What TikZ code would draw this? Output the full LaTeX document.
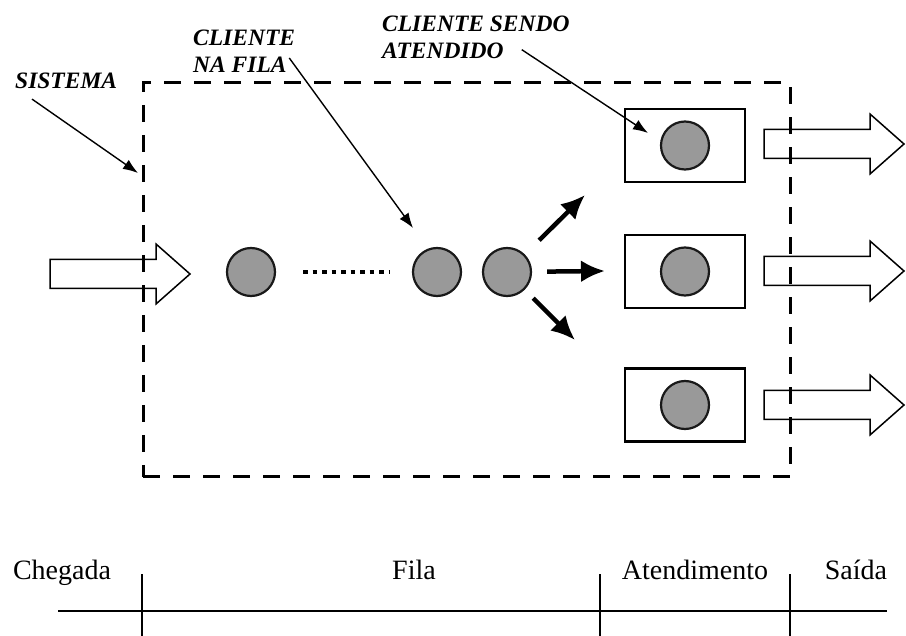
\documentclass[tikz,border=0pt]{standalone}
\usepackage{fontspec}
\setmainfont{Liberation Serif}
\usetikzlibrary{positioning,arrows.meta,calc}

\begin{document}
\begin{tikzpicture}[
  x=1pt, y=-1pt,
  client/.style={circle, draw=black!90, line width=2.2pt, fill=black!40, minimum size=48pt, inner sep=0pt},
  server/.style={draw, line width=2.4pt, minimum width=120pt, minimum height=73pt, inner sep=0pt},
  sysline/.style={draw, line width=3pt, dash pattern=on 17pt off 13pt},
  tag/.style={font=\fontsize{23.5}{27}\selectfont\bfseries\itshape, align=left, inner sep=0pt},
  phase/.style={font=\fontsize{28}{30}\selectfont, anchor=base, inner sep=0pt},
  pointer/.style={-{Latex[length=15pt,width=11pt]}, line width=1.4pt},
  flow/.style={-{Latex[length=24pt,width=22pt]}, line width=4.5pt},
  waiting/.style={line width=4.5pt, dash pattern=on 4.5pt off 5pt},
  fatarrow/.pic={\draw[line width=1.5pt, fill=white] (0,-14.5) -- (106,-14.5) -- (106,-30)
    -- (140,0) -- (106,30) -- (106,14.5) -- (0,14.5) -- cycle;}
]
\useasboundingbox (0,0) rectangle (906,636);

% arrival and departures
\pic at (50,274) {fatarrow};
\foreach \y in {144,271,405}
  \pic at (764,\y) {fatarrow};

% system boundary
\node[sysline, minimum width=647pt, minimum height=394pt, inner sep=0pt] (sysbox) at (466.5,280) {};

% queue
\node[client] (q1) at (251,272) {};
\node[client] (q2) at (437,272) {};
\node[client] (q3) at (507,272) {};
\draw[waiting, shorten <=27pt, shorten >=23pt] (q1) -- (q2);

% servers
\node[server] (s1) at (685,145.5) {};
\node[server] (s2) at (685,271.5) {};
\node[server] (s3) at (685,405) {};
\node[client] (c1) at (s1) {};
\node[client] (c2) at (s2) {};
\node[client] (c3) at (s3) {};

\coordinate (toup) at (585,195);
\coordinate (tomid) at (605,271);
\coordinate (todown) at (575,340);
\draw[flow, shorten <=20pt] (q3) -- (toup);
\draw[flow, shorten <=15pt] (q3) -- (tomid);
\draw[flow, shorten <=12pt] (q3) -- (todown);

% labels
\node[tag, anchor=west] (sistema) at (15,81) {SISTEMA};
\node[tag, anchor=north west] (fila) at (193,30) {CLIENTE\\NA FILA};
\node[tag, anchor=north west] (atend) at (382,15.5) {CLIENTE SENDO\\ATENDIDO};

\coordinate (sysmark) at (138,173);
\coordinate (filamark) at (413,228);
\coordinate (atendmark) at (648,133);
\draw[pointer] ($(sistema.south west)+(17,10)$) -- (sysmark);
\draw[pointer] ($(fila.south east)+(-6,-15)$) -- (filamark);
\draw[pointer] ($(atend.south east)+(-48,-9)$) -- (atendmark);

% time line
\coordinate (tlstart) at (58,611);
\coordinate (tlend) at (887,611);
\draw[line width=2pt] (tlstart) -- (tlend);
\foreach \x in {142,600,790}
  \draw[line width=1.6pt] (\x,574) -- (\x,636);

\node[phase] (chegada) at (62,579) {Chegada};
\node[phase] (filatxt) at (414,579) {Fila};
\node[phase] (atendtxt) at (695,579) {Atendimento};
\node[phase] (saida) at (856,579) {Saída};

\end{tikzpicture}
\end{document}
